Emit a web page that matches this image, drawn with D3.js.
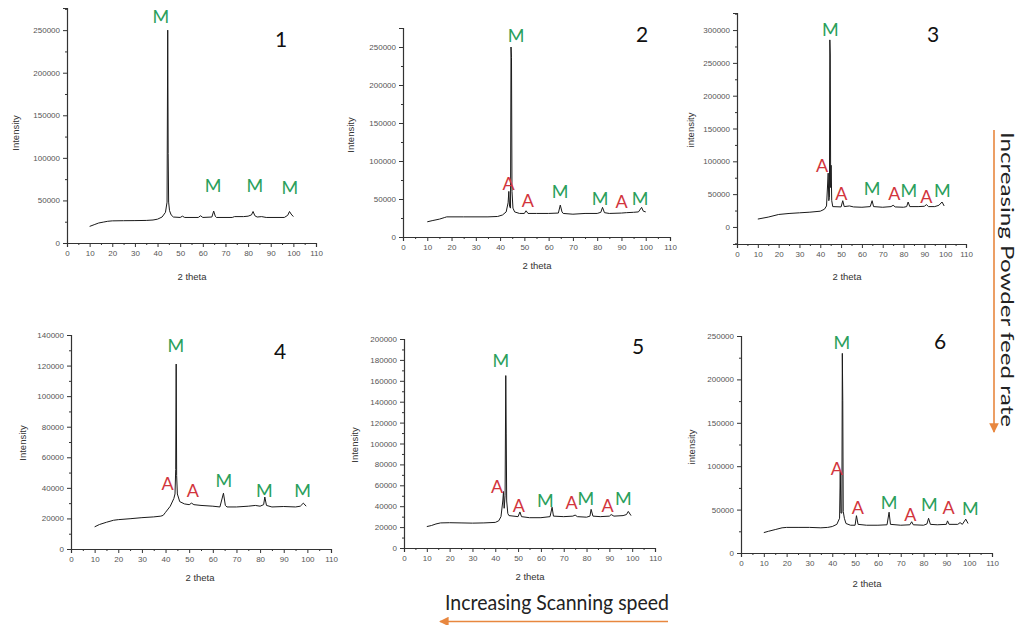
<!DOCTYPE html>
<html><head><meta charset="utf-8">
<script src="https://cdn.jsdelivr.net/npm/d3@7"></script>
<style>body{margin:0;background:#fff}svg{display:block}</style>
</head><body>
<script>
// ---------- DATA ----------
const xTicks = [0,10,20,30,40,50,60,70,80,90,100,110];
const yTicks1 = [0,50000,100000,150000,200000,250000];
const yTicks2 = [0,50000,100000,150000,200000,250000];
const yTicks3 = [0,50000,100000,150000,200000,250000,300000];
const yTicks4 = [0,20000,40000,60000,80000,100000,120000,140000];
const yTicks5 = [0,20000,40000,60000,80000,100000,120000,140000,160000,180000,200000];
const yTicks6 = [0,50000,100000,150000,200000,250000];
const yDomains = [[0,276000],[0,275000],[-26000,326000],[0,140000],[0,200000],[0,250000]];
const panelNames = ["1","2","3","4","5","6"];
const yTitles = ["Intensity","Intensity","intensity","Intensity","Intensity","intensity"];

const spec1 = [[10,19500],[12,21500],[14,23500],[16,24500],[18,25500],[20,26000],[25,26200],[30,26300],[35,26500],[38,27000],[40,28000],[42,30500],[43.5,36000],[44.2,48000],[44.5,250000],[44.7,105000],[44.9,48000],[45.3,38000],[46,33000],[47,30500],[50,30000],[51,31500],[52,30000],[58,30000],[59,32000],[60,30000],[64,30500],[64.8,37500],[65.5,31500],[66,30000],[73,30000],[74,31000],[78,31000],[80,31500],[81.5,33000],[82.2,37000],[83,32000],[84,30500],[86,31000],[88,30000],[96,30000],[97.5,32500],[98.3,37000],[99,34000],[100,31000]];
const spec2 = [[10,20000],[12,21500],[15,23500],[17,25500],[18,26500],[25,26500],[35,26500],[39,27000],[41,29000],[42.5,33000],[43.3,45000],[43.6,60000],[43.9,40000],[44.3,38000],[44.5,250000],[44.7,236000],[44.9,60000],[45.3,38000],[46,33000],[48,31000],[50,31000],[50.7,34500],[51.5,31000],[55,31000],[60,31000],[64,31500],[64.8,42000],[65.5,33000],[66,31000],[70,30000],[75,31000],[80,31000],[81.5,32500],[82.2,39000],[83,32000],[85,31000],[90,31500],[92,32000],[95,32500],[97,33000],[98.3,39000],[99,34000],[100,33000]];
const spec3 = [[10,12000],[15,15000],[20,19000],[25,20500],[30,21500],[35,22500],[40,24000],[42,27000],[43,32000],[43.8,82000],[44.1,40000],[44.4,45000],[44.6,285000],[44.8,262000],[45.0,60000],[45.2,94000],[45.5,40000],[46,31000],[50,30500],[50.8,40000],[51.5,31000],[54,32000],[56,30500],[60,30000],[64,31000],[64.9,40000],[65.6,31000],[70,30000],[74,31000],[75,33000],[76,30500],[80,30000],[81.5,31000],[82.2,38000],[83,31000],[87,31000],[90,31500],[91,34000],[92,31000],[95,31000],[97,33000],[98.5,38000],[99.5,32000]];
const spec4 = [[10,14500],[12,16000],[15,17500],[18,18800],[20,19200],[25,19800],[30,20500],[35,21000],[38,21500],[39,22000],[40,24000],[42,28000],[43.5,33000],[44,36000],[44.3,52000],[44.5,121000],[44.7,48000],[45,36000],[46,31000],[48,29500],[50,29000],[51,30000],[52,29000],[55,28500],[60,28000],[63,27500],[64.5,36500],[65.3,28500],[66,27500],[70,27500],[75,28000],[78,28500],[80,28000],[81.5,29000],[82,34000],[82.7,28500],[85,27500],[90,27800],[95,27500],[97,28000],[98.3,30000],[99.5,28000]];
const spec5 = [[10,20500],[12,21500],[14,23000],[16,24000],[20,24200],[25,24000],[30,23800],[35,24000],[40,24500],[41.5,26000],[42.5,30000],[43.3,45000],[43.6,54000],[43.9,38000],[44.3,50000],[44.6,165000],[44.8,110000],[45,45000],[45.5,33000],[46,31000],[50,30000],[50.8,34500],[51.5,30000],[55,29000],[60,29000],[64,30000],[64.9,39000],[65.5,30500],[70,30000],[74,30500],[75,31500],[76,30000],[80,29500],[81.5,30500],[82,37000],[82.8,30500],[86,30000],[90,30500],[90.8,32000],[92,30500],[96,31000],[97.5,32000],[98.3,35000],[99.5,31000]];
const spec6 = [[10,23500],[12,25000],[15,27000],[18,29000],[20,29500],[25,29500],[30,29500],[35,29000],[38,29500],[40,30500],[42,33000],[43.2,40000],[43.5,94000],[43.8,46000],[44.2,46000],[44.4,230000],[44.6,176000],[44.8,48000],[45.3,40000],[46,34000],[48,32000],[50,32000],[50.6,43000],[51.3,33000],[55,32000],[60,32000],[64,32500],[64.9,47000],[65.5,33000],[70,32000],[74,32500],[74.8,36000],[75.5,32500],[80,32000],[81.5,33500],[82.2,40000],[83,33000],[86,32500],[90,33000],[90.5,37000],[91.2,33000],[95,33000],[96,35000],[97,33000],[98.5,39000],[99.5,34000]];

// phase labels: [letter, 2theta, intensity]
const marks1 = [["M",41.5,267000],["M",64.5,68000],["M",83.0,68000],["M",98.5,66000]];
const marks2 = [["M",46.6,266000],["A",43.5,71000],["A",51.4,49000],["M",64.7,60000],["M",81.2,51000],["A",90.1,48000],["M",97.7,51000]];
const marks3 = [["M",44.9,301000],["A",40.9,94000],["A",50.1,51000],["M",64.9,59000],["A",75.6,51000],["M",82.5,57000],["A",91.0,47000],["M",98.6,57000]];
const marks4 = [["M",44.4,133500],["A",40.9,43000],["A",51.5,38600],["M",64.7,45100],["M",81.8,38600],["M",98.0,38600]];
const marks5 = [["M",42.4,180000],["A",40.8,59600],["A",50.3,41400],["M",62.0,45500],["A",73.4,43600],["M",79.7,47800],["A",89.2,41400],["M",96.1,47800]];
const marks6 = [["M",44.2,243000],["A",42.0,97500],["A",51.2,53300],["M",64.9,59000],["A",74.2,44900],["M",82.5,56000],["A",91.0,53300],["M",100.5,51400]];

const specs = [spec1,spec2,spec3,spec4,spec5,spec6];
const marks = [marks1,marks2,marks3,marks4,marks5,marks6];
const yTicksAll = [yTicks1,yTicks2,yTicks3,yTicks4,yTicks5,yTicks6];

// ---------- LAYOUT (pixels) ----------
const layout = [
  {l:67, r:316, b:243, t:8,  yt:[15,133], xt:[192,276], num:[281,38]},
  {l:403,r:670, b:237, t:28, yt:[350,135], xt:[537,265], num:[642,33]},
  {l:737,r:966, b:244, t:13, yt:[690,130], xt:[847,276], num:[933,33]},
  {l:71, r:331, b:549, t:335,yt:[22,443], xt:[200,577], num:[280,350]},
  {l:404,r:655, b:548, t:339,yt:[354,445], xt:[530,576], num:[638,345]},
  {l:741,r:992, b:553, t:336,yt:[691,447], xt:[867,583], num:[940,340]}
];

const W = 1021, H = 625;
const svg = d3.select("body").append("svg").attr("width",W).attr("height",H);
const green = "#2aa05c", red = "#d2353d", orange = "#e8873f";
const labFont = "Lato, 'Open Sans', sans-serif";

layout.forEach((L,i)=>{
  const x = d3.scaleLinear().domain([0,110]).range([L.l,L.r]);
  const y = d3.scaleLinear().domain(yDomains[i]).range([L.b,L.t]);
  const g = svg.append("g");
  g.append("g").attr("transform",`translate(0,${L.b})`)
    .call(d3.axisBottom(x).tickValues(xTicks).tickSize(4).tickPadding(3).tickFormat(d3.format("d")));
  g.append("g").attr("transform",`translate(0,${L.b})`)
    .call(d3.axisBottom(x).tickValues(d3.range(5,110,5).filter(v=>v%10)).tickSize(2).tickFormat(""))
    .select(".domain").remove();
  g.append("g").attr("transform",`translate(${L.l},0)`)
    .call(d3.axisLeft(y).tickValues(yTicksAll[i]).tickSize(4).tickPadding(3).tickFormat(d3.format("d")));
  const yt = yTicksAll[i], step = yt[1]-yt[0];
  const minor = [];
  for (let v = Math.ceil(yDomains[i][0]/(step/2))*(step/2); v <= yDomains[i][1]; v += step/2) {
    if (Math.abs(v % step) > 1) minor.push(v);
  }
  g.append("g").attr("transform",`translate(${L.l},0)`)
    .call(d3.axisLeft(y).tickValues(minor).tickSize(2).tickFormat(""))
    .select(".domain").remove();
  g.selectAll(".domain").attr("stroke","#333").attr("stroke-width",1.2);
  g.selectAll(".tick line").attr("stroke","#333");
  g.selectAll(".tick text").attr("font-family","Liberation Sans, Arial, sans-serif")
    .attr("font-size",8).attr("fill","#555");
  g.append("text").attr("x",L.xt[0]).attr("y",L.xt[1]).attr("text-anchor","middle")
    .attr("dominant-baseline","central").attr("font-family","Liberation Sans, Arial, sans-serif")
    .attr("font-size",9.5).attr("fill","#333").text("2 theta");
  g.append("text").attr("transform",`translate(${L.yt[0]},${L.yt[1]}) rotate(-90)`)
    .attr("text-anchor","middle").attr("dominant-baseline","central")
    .attr("font-family","Liberation Sans, Arial, sans-serif")
    .attr("font-size",9.5).attr("fill","#333").text(yTitles[i]);
  g.append("path").datum(specs[i])
    .attr("d", d3.line().x(d=>x(d[0])).y(d=>y(d[1])))
    .attr("fill","none").attr("stroke","#1a1a1a").attr("stroke-width",1).attr("stroke-linejoin","round");
  g.selectAll("text.mk").data(marks[i]).join("text").attr("class","mk")
    .attr("x",d=>x(d[1])).attr("y",d=>y(d[2]))
    .attr("text-anchor","middle").attr("dominant-baseline","central")
    .attr("font-family",labFont).attr("font-size",18)
    .attr("fill",d=>d[0]==="M"?green:red).text(d=>d[0]);
  g.append("text").attr("x",L.num[0]).attr("y",L.num[1]).attr("text-anchor","middle")
    .attr("dominant-baseline","central").attr("font-family",labFont)
    .attr("font-size",21).attr("fill","#111").text(panelNames[i]);
});

// arrows
const defs = svg.append("defs");
defs.append("marker").attr("id","ah").attr("viewBox","0 0 10 10").attr("refX",9).attr("refY",5)
  .attr("markerWidth",6).attr("markerHeight",6).attr("orient","auto-start-reverse")
  .append("path").attr("d","M0,0 L10,5 L0,10 z").attr("fill",orange);
svg.append("line").attr("x1",668).attr("y1",621.5).attr("x2",440).attr("y2",621.5)
  .attr("stroke",orange).attr("stroke-width",1.6).attr("marker-end","url(#ah)");
svg.append("text").attr("x",445).attr("y",610).attr("font-family",labFont).attr("font-size",21)
  .attr("textLength",224).attr("lengthAdjust","spacingAndGlyphs").attr("fill","#222")
  .text("Increasing Scanning speed");
svg.append("line").attr("x1",994).attr("y1",130).attr("x2",994).attr("y2",432)
  .attr("stroke",orange).attr("stroke-width",1.6).attr("marker-end","url(#ah)");
svg.append("text").attr("transform","translate(1000,132) rotate(90)").attr("dy","-0.05em")
  .attr("font-family",labFont).attr("font-size",17.5).attr("textLength",295).attr("lengthAdjust","spacingAndGlyphs")
  .attr("fill","#222").text("Increasing Powder feed rate");
</script>
</body></html>
